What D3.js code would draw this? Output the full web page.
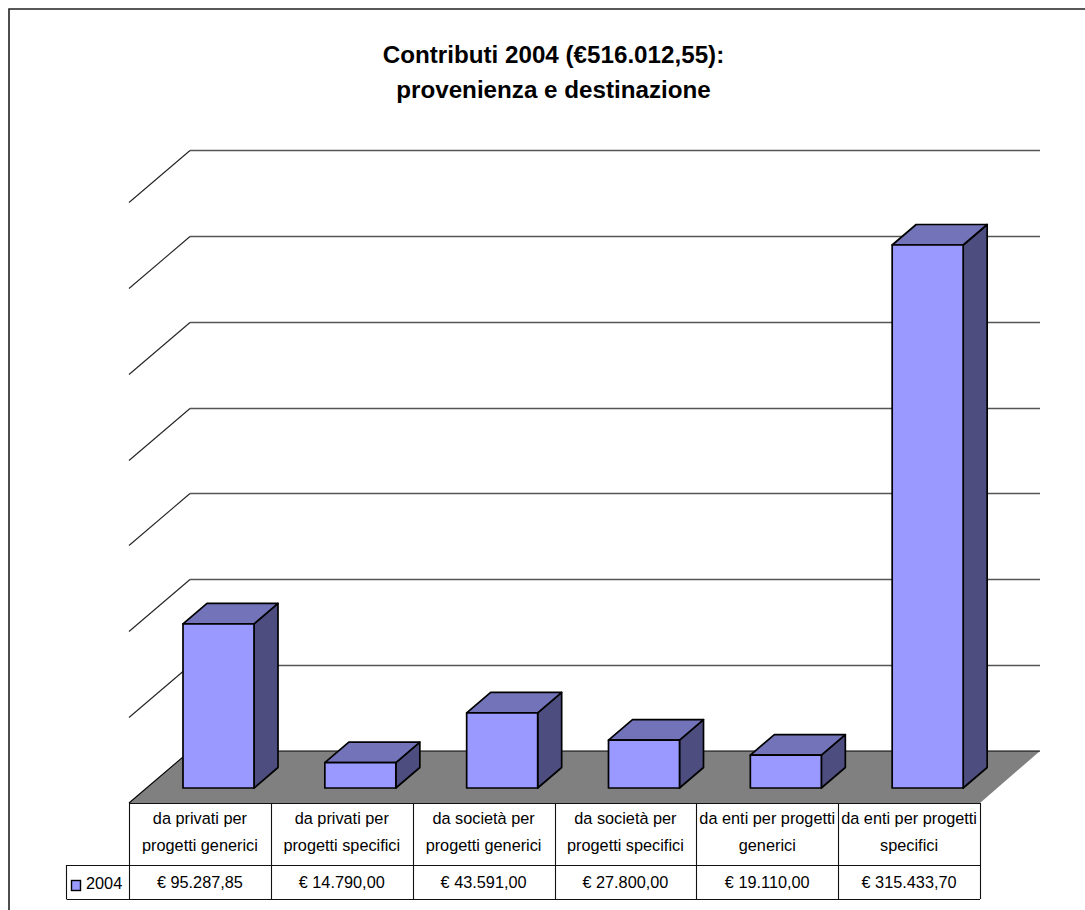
<!DOCTYPE html>
<html><head><meta charset="utf-8">
<script src="https://cdnjs.cloudflare.com/ajax/libs/d3/7.8.5/d3.min.js"></script>
<style>html,body{margin:0;padding:0;background:#fff}svg{display:block}text{font-family:"Liberation Sans",Arial,sans-serif;fill:#000}</style>
</head><body><div id="c"></div>
<script>
const titleLines = ["Contributi 2004 (€516.012,55):", "provenienza e destinazione"];
const categories = [
  ["da privati per", "progetti generici"],
  ["da privati per", "progetti specifici"],
  ["da società per", "progetti generici"],
  ["da società per", "progetti specifici"],
  ["da enti per progetti", "generici"],
  ["da enti per progetti", "specifici"]
];
const seriesName = "2004";
const values = [95287.85, 14790.00, 43591.00, 27800.00, 19110.00, 315433.70];
const valueLabels = ["€ 95.287,85", "€ 14.790,00", "€ 43.591,00", "€ 27.800,00", "€ 19.110,00", "€ 315.433,70"];
const axisTicks = [0, 50000, 100000, 150000, 200000, 250000, 300000, 350000];

const W = 1085, H = 910;
const svg = d3.select("#c").append("svg").attr("width", W).attr("height", H);

// plot geometry
const tableL = 129, tableR = 980, floorFront = 803, floorBack = 751, depthX = 61;
const barDx = 24, barDy = 20.5, frontBase = 788;
const x = d3.scaleBand().domain(d3.range(categories.length)).range([tableL, tableR]);
const yBack = d3.scaleLinear().domain([0, 350000]).range([floorBack, 150]);
const h = d3.scaleLinear().domain([0, 350000]).range([0, 602.5]);
const barW = 71, barOff = 54;

// outer frame
svg.append("path").attr("d", `M9,${H} V9 H${W}`).attr("fill","none").attr("stroke","#222").attr("stroke-width",1.6);

// gridlines on walls
const grid = svg.append("g").attr("fill","none");
const gy = d => Math.round(yBack(d)) + .5;
grid.selectAll("path.d").data(axisTicks.slice(1)).join("path")
  .attr("stroke","#222").attr("stroke-width",1.1)
  .attr("d", d => `M${tableL},${gy(d) + floorFront - floorBack} L${tableL+depthX},${gy(d)}`);
grid.selectAll("path.h").data(axisTicks.slice(1)).join("path")
  .attr("stroke","#555").attr("stroke-width",1.5)
  .attr("d", d => `M${tableL+depthX},${gy(d)} H1040`);

// floor
svg.append("path")
  .attr("d", `M${tableL},${floorFront} L${tableL+depthX},${floorBack} H${tableR+depthX-1} L${tableR},${floorFront} Z`)
  .attr("fill","#808080").attr("stroke","none");
svg.append("path").attr("d", `M${tableL},${floorFront} L${tableL+depthX},${floorBack} H${tableR+depthX-1}`)
  .attr("fill","none").attr("stroke","#000").attr("stroke-width",1.1);

// bars
const bars = svg.append("g").selectAll("g").data(values).join("g")
  .attr("stroke","#000").attr("stroke-width",1.7).attr("stroke-linejoin","round");
const X0 = (d,i) => x(i) + barOff;
const Y0 = d => frontBase - h(d);
bars.append("path").attr("fill","#4D4D80")
  .attr("d",(d,i)=>{const a=X0(d,i)+barW,b=Y0(d);return `M${a},${b} l${barDx},${-barDy} V${frontBase-barDy} l${-barDx},${barDy} Z`;});
bars.append("path").attr("fill","#7373B9")
  .attr("d",(d,i)=>{const a=X0(d,i),b=Y0(d);return `M${a},${b} l${barDx},${-barDy} h${barW} l${-barDx},${barDy} Z`;});
bars.append("rect").attr("fill","#9999FF")
  .attr("x",(d,i)=>X0(d,i)).attr("y",d=>Y0(d)).attr("width",barW).attr("height",d=>h(d));

// data table
const row1 = 865, row2 = 899, legendL = 66;
const t = svg.append("g").attr("stroke","#111").attr("stroke-width",1.1).attr("fill","none");
const cols = d3.range(categories.length + 1).map(i => Math.round(i < categories.length ? x(i) : tableR) + .5);
t.selectAll("line.v").data(cols).join("line")
  .attr("x1",d=>d).attr("x2",d=>d).attr("y1",floorFront).attr("y2",row2);
t.append("path").attr("d",`M${tableL},${floorFront+.5} H${tableR}`);
t.append("path").attr("d",`M${legendL+.5},${row1+.5} H${tableR} M${legendL+.5},${row2+.5} H${tableR} M${legendL+.5},${row1} V${row2}`);

const lab = svg.append("g").attr("text-anchor","middle").attr("font-size",16.3);
categories.forEach((lines,i) => {
  const cx = x(i) + x.bandwidth()/2;
  lines.forEach((l,j) => lab.append("text").attr("x",cx).attr("y",824+j*27).text(l));
  lab.append("text").attr("x",cx).attr("y",888).text(valueLabels[i]);
});
svg.append("rect").attr("x",71.5).attr("y",880.5).attr("width",9).attr("height",10).attr("fill","#9999FF").attr("stroke","#000").attr("stroke-width",1.4);
svg.append("text").attr("x",86).attr("y",889).attr("font-size",16.3).text(seriesName);

// title
const ti = svg.append("g").attr("text-anchor","middle").attr("font-size",24.2).attr("font-weight","bold");
titleLines.forEach((l,i)=> ti.append("text").attr("x",553.5).attr("y",63+i*34.5).text(l));
</script></body></html>
